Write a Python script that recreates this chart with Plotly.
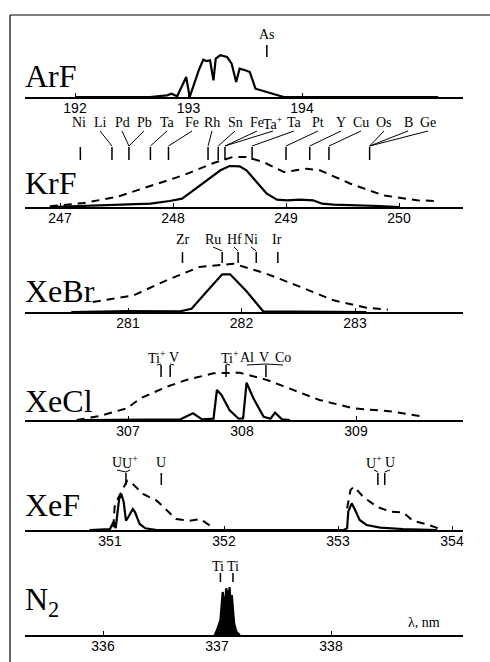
import plotly.graph_objects as go

W, H = 490, 662

# ---------------- data (wavelength in nm, relative intensity in arb. units) ----------------
ARF_WL = [192.0, 192.66, 192.81, 192.85, 192.90, 192.98, 193.01, 193.09, 193.13, 193.16, 193.19,
          193.22, 193.24, 193.28, 193.34, 193.38, 193.42, 193.45, 193.50, 193.54, 193.59, 193.78,
          193.84, 195.2]
ARF_I = [0, 0, 1.7, 3.3, 0.7, 20, 0, 26.7, 37.3, 36, 36.7, 16.7, 38.3, 41.7, 40, 33.3, 15, 28.3,
         26.7, 25, 8.3, 1.7, 0, 0]

KRF_WL = [246.91, 247.53, 247.80, 247.97, 248.08, 248.18, 248.30, 248.42, 248.50, 248.59, 248.65,
          248.74, 248.83, 248.92, 249.01, 249.12, 249.24, 249.32, 249.42, 249.83, 250.0]
KRF_I = [0, 2.3, 3.3, 6, 8.3, 16.7, 26.7, 36.7, 41, 40.7, 36.7, 25, 13.3, 7.3, 6.7, 7.3, 6.7, 3.3,
         2.3, 1, 0]
KRF_D_WL = [246.91, 247.21, 247.50, 247.80, 248.09, 248.36, 248.53, 248.65, 248.80, 248.98, 249.18,
            249.30, 249.57, 249.86, 250.16, 250.33]
KRF_D_I = [0.7, 4, 10, 20.7, 31.7, 44, 50, 50, 45, 35, 38.3, 36.7, 23.3, 11.7, 6.7, 6]

XEBR_WL = [280.5, 281.0, 281.46, 281.56, 281.69, 281.83, 281.90, 282.05, 282.19, 283.1]
XEBR_I = [0, 0.8, 0.7, 3.3, 20, 37.7, 37.7, 20, 0.7, 0]
XEBR_D_WL = [280.69, 281.05, 281.34, 281.63, 281.93, 282.22, 282.52, 282.81, 283.10, 283.29]
XEBR_D_I = [10, 16.7, 31.7, 45, 48.3, 38.3, 25, 11.7, 4.3, 2.3]

XECL_WL = [306.6, 307.46, 307.57, 307.65, 307.75, 307.78, 307.82, 307.89, 307.97, 308.01, 308.04,
           308.10, 308.19, 308.25, 308.29, 308.35, 308.42]
XECL_I = [0, 0.7, 6.7, 0.7, 1.3, 30, 25, 10, 1.3, 1.7, 37.3, 21.7, 3.3, 1.3, 7.3, 0.7, 0]
XECL_D_WL = [306.55, 306.75, 306.99, 307.11, 307.34, 307.51, 307.75, 307.98, 308.22, 308.45,
             308.68, 308.98, 309.33, 309.59]
XECL_D_I = [0, 4, 11.7, 21.7, 33.3, 40, 46.7, 47.3, 40, 30, 20, 11.7, 8.3, 3.3]

XEF_WL = [350.82, 351.0, 351.03, 351.05, 351.08, 351.10, 351.12, 351.14, 351.16, 351.20, 351.22,
          351.26, 351.31, 351.41, 353.05, 353.08, 353.09, 353.12, 353.15, 353.19, 353.25, 353.37,
          353.57, 353.87]
XEF_I = [0, 1, 8, 2, 31, 36, 28, 9.3, 12.7, 21, 17.7, 6, 1.7, 0, 0, 1.7, 18.3, 26.7, 20, 10, 5,
         2.3, 1, 0]
XEF_D_WL = [351.03, 351.04, 351.06, 351.15, 351.20, 351.29, 351.41, 351.50, 351.58, 351.70,
            351.79, 351.88, 351.91, None, 353.08, 353.11, 353.14, 353.22, 353.34, 353.46, 353.57,
            353.66, 353.78, 353.87, 353.92]
XEF_D_I = [2.7, 22.7, 29.3, 49.3, 46, 36, 29.3, 19.3, 11, 9.3, 11, 4.3, 0, None, 21.7, 40, 43.3,
           33.3, 23.3, 18.3, 17.7, 9, 5.7, 2.3, 0]

N2_WL = [336.98, 337.00, 337.03, 337.04, 337.05, 337.07, 337.08, 337.10, 337.11, 337.12, 337.13,
         337.15, 337.17, 337.20]
N2_I = [0, 5, 15, 28, 43, 25, 46.7, 38, 48, 31.7, 40, 11.7, 3.3, 0]

# axis tick labels (nm)
ARF_TICKS = [192, 193, 194]
KRF_TICKS = [247, 248, 249, 250]
XEBR_TICKS = [281, 282, 283]
XECL_TICKS = [307, 308, 309]
XEF_TICKS = [351, 352, 353, 354]
N2_TICKS = [336, 337, 338]

# element emission lines (nm) and their labels; label -> index of line it points to
ARF_LINES = [193.69]
ARF_LABELS = ["As"]
ARF_LINK = [0]

KRF_LINES = [247.18, 247.46, 247.61, 247.80, 247.96, 248.31, 248.40, 248.46, 248.70, 249.00,
             249.21, 249.38, 249.74]
KRF_LABELS = ["Ni", "Li", "Pd", "Pb", "Ta", "Fe", "Rh", "Sn", "Fe", "Ta<sup>+</sup>", "Ta", "Pt",
              "Y", "Cu", "Os", "B", "Ge"]
KRF_LINK = [0, 1, 2, 2, 3, 4, 5, 6, 7, 7, 8, 9, 10, 11, 12, 12, 12]

XEBR_LINES = [281.48, 281.83, 281.97, 282.13, 282.32]
XEBR_LABELS = ["Zr", "Ru", "Hf", "Ni", "Ir"]
XEBR_LINK = [0, 1, 2, 3, 4]

XECL_LINES = [307.29, 307.37, 307.86, 308.21]
XECL_LABELS = ["Ti<sup>+</sup>", "V", "Ti<sup>+</sup>", "Al", "V", "Co"]
XECL_LINK = [0, 1, 2, 3, 3, 3]

XEF_LINES = [351.14, 351.45, 353.35, 353.41]
XEF_LABELS = ["U", "U<sup>+</sup>", "U", "U<sup>+</sup>", "U"]
XEF_LINK = [0, 0, 1, 2, 3]

N2_LINES = [337.03, 337.14]
N2_LABELS = ["Ti", "Ti"]
N2_LINK = [0, 1]

PANEL_NAMES = ["ArF", "KrF", "XeBr", "XeCl", "XeF", "N<sub>2</sub>"]

# ---------------- layout (pixel geometry) ----------------
X0PX, X1PX = 25, 463
SERIF = "Liberation Serif, Times New Roman, serif"
SANS = "Liberation Sans, Arial, sans-serif"

PANELS = [
    dict(solid=(ARF_WL, ARF_I), dashed=None, fill=False, ticks=ARF_TICKS, base=97, ref=192,
         refpx=75, ppn=113.5, name_y=76, lines=ARF_LINES, labels=ARF_LABELS, link=ARF_LINK,
         label_px=[267], label_y=34, tick=(45, 57)),
    dict(solid=(KRF_WL, KRF_I), dashed=(KRF_D_WL, KRF_D_I), fill=False, ticks=KRF_TICKS, base=207,
         ref=247, refpx=60, ppn=113, name_y=183, lines=KRF_LINES, labels=KRF_LABELS, link=KRF_LINK,
         label_px=[79, 100, 122, 144, 167, 192, 212, 235, 257, 273, 294, 318, 341, 361, 384, 408, 428],
         label_y=123, tick=(147, 160)),
    dict(solid=(XEBR_WL, XEBR_I), dashed=(XEBR_D_WL, XEBR_D_I), fill=False, ticks=XEBR_TICKS,
         base=312, ref=281, refpx=128, ppn=113.5, name_y=291, lines=XEBR_LINES,
         labels=XEBR_LABELS, link=XEBR_LINK,
         label_px=[183, 213, 234, 251, 277], label_y=239, tick=(252, 263)),
    dict(solid=(XECL_WL, XECL_I), dashed=(XECL_D_WL, XECL_D_I), fill=False, ticks=XECL_TICKS,
         base=420, ref=307, refpx=128, ppn=114, name_y=401, lines=XECL_LINES,
         labels=XECL_LABELS, link=XECL_LINK,
         label_px=[157, 174, 230, 247, 264, 283], label_y=357, tick=(365, 377)),
    dict(solid=(XEF_WL, XEF_I), dashed=(XEF_D_WL, XEF_D_I), fill=False, ticks=XEF_TICKS,
         base=530, ref=351, refpx=110, ppn=114, name_y=505, lines=XEF_LINES, labels=XEF_LABELS,
         link=XEF_LINK, label_px=[117, 130, 161, 374, 390], label_y=462, tick=(473, 485)),
    dict(solid=(N2_WL, N2_I), dashed=None, fill=True, ticks=N2_TICKS, base=635, ref=336,
         refpx=103, ppn=114, name_y=601, lines=N2_LINES, labels=N2_LABELS, link=N2_LINK,
         label_px=[218, 233], label_y=566, tick=(573, 582)),
]


def ypap(py):
    return 1 - py / H


def xpap(px):
    return px / W


fig = go.Figure()
shapes = []
annotations = []
layout_axes = {}

for i, p in enumerate(PANELS, start=1):
    xa = "x" if i == 1 else f"x{i}"
    ya = "y" if i == 1 else f"y{i}"
    lo = p["ref"] - (p["refpx"] - X0PX) / p["ppn"]
    hi = p["ref"] + (X1PX - p["refpx"]) / p["ppn"]

    def lam(px, p=p):
        return p["ref"] + (px - p["refpx"]) / p["ppn"]

    layout_axes["xaxis" if i == 1 else f"xaxis{i}"] = dict(
        domain=[xpap(X0PX), xpap(X1PX)], range=[lo, hi], anchor=ya,
        showline=True, linecolor="black", linewidth=1.6, mirror=False,
        ticks="inside", ticklen=4, tickwidth=1.2, tickcolor="black",
        tickmode="array", tickvals=p["ticks"], ticktext=[str(t) for t in p["ticks"]],
        ticklabelstandoff=-3,
        showgrid=False, zeroline=False,
        tickfont=dict(family=SANS, size=14, color="black"),
    )
    layout_axes["yaxis" if i == 1 else f"yaxis{i}"] = dict(
        domain=[ypap(p["base"]), ypap(p["base"] - 60)], range=[0, 60], anchor=xa,
        visible=False, showgrid=False, zeroline=False,
    )

    if p["dashed"] is not None:
        fig.add_trace(go.Scatter(x=p["dashed"][0], y=p["dashed"][1], xaxis=xa, yaxis=ya,
                                 mode="lines", line=dict(color="black", width=2, dash="8px,6px"),
                                 connectgaps=False, showlegend=False, hoverinfo="skip"))
    fig.add_trace(go.Scatter(x=p["solid"][0], y=p["solid"][1], xaxis=xa, yaxis=ya,
                             mode="lines", line=dict(color="black", width=2.2),
                             fill="tozeroy" if p["fill"] else None,
                             fillcolor="black", showlegend=False, hoverinfo="skip"))

    # panel name
    annotations.append(dict(text=PANEL_NAMES[i - 1], xref="paper", yref="paper",
                            x=xpap(23), y=ypap(p["name_y"]), xanchor="left", yanchor="middle",
                            showarrow=False, font=dict(family=SERIF, size=32, color="black")))

    # element line markers
    t0, t1 = p["tick"]
    for wl in p["lines"]:
        shapes.append(dict(type="line", xref=xa, yref="paper", x0=wl, x1=wl,
                           y0=ypap(t0), y1=ypap(t1), line=dict(color="black", width=1.5)))
    for lab, lpx, k in zip(p["labels"], p["label_px"], p["link"]):
        lx = lam(lpx)
        annotations.append(dict(text=lab, xref=xa, yref="paper", x=lx, y=ypap(p["label_y"]),
                                xanchor="center", yanchor="middle", showarrow=False,
                                borderpad=0,
                                font=dict(family=SERIF, size=14, color="black")))
        wl = p["lines"][k]
        if abs((wl - lx) * p["ppn"]) > 3:
            shapes.append(dict(type="line", xref=xa, yref="paper", x0=lx, x1=wl,
                               y0=ypap(p["label_y"] + 8), y1=ypap(t0 - 1),
                               line=dict(color="black", width=1)))

# lambda label
annotations.append(dict(text="λ, nm", xref="paper", yref="paper", x=xpap(424), y=ypap(622),
                        xanchor="center", yanchor="middle", showarrow=False,
                        font=dict(family=SERIF, size=14, color="black")))

# frame lines
shapes.append(dict(type="line", xref="paper", yref="paper", x0=xpap(10), x1=1.0,
                   y0=ypap(15), y1=ypap(15), line=dict(color="black", width=1.2)))
shapes.append(dict(type="line", xref="paper", yref="paper", x0=xpap(10), x1=xpap(10),
                   y0=ypap(15), y1=0.0, line=dict(color="black", width=1.2)))

fig.update_layout(width=W, height=H, margin=dict(l=0, r=0, t=0, b=0),
                  paper_bgcolor="white", plot_bgcolor="rgba(0,0,0,0)",
                  shapes=shapes, annotations=annotations, **layout_axes)

fig.write_html("out.html", config={"displayModeBar": False},
               post_script="document.body.style.margin='0';document.body.style.overflow='hidden';")
